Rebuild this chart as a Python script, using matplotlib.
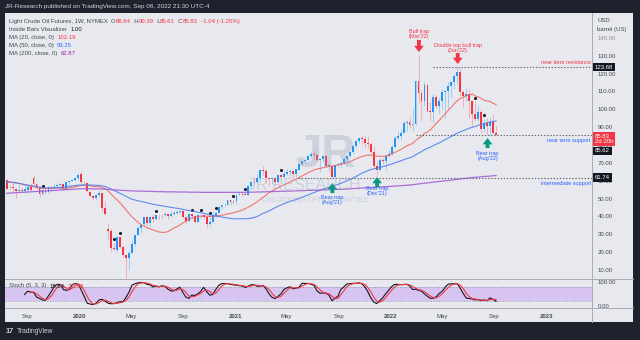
import numpy as np
import pandas as pd
import matplotlib
matplotlib.use("Agg")
import matplotlib.pyplot as plt
import matplotlib.dates as mdates
from matplotlib.patches import Rectangle
from matplotlib.lines import Line2D
from matplotlib.transforms import blended_transform_factory

plt.rcParams['font.family'] = ['Liberation Sans', 'DejaVu Sans']

# ---------------- data (weekly, Light Crude Oil Futures) ----------------
start_week = "2019-07-15"
opens = [
    60.2, 55.7, 56.3, 55.5, 54.3, 54.9, 54.0, 55.0, 56.6, 61.5, 58.2, 55.9, 52.8, 54.6, 53.8, 56.6, 56.2, 57.2, 57.7, 57.9, 55.2, 59.2, 60.1, 60.4, 61.7,
    63.7, 59.0, 58.6, 53.5, 51.5, 50.3, 52.1, 53.0, 44.8, 32.9, 31.7, 22.4, 21.0, 28.3, 22.8, 18.3, 17.0, 19.8, 24.7, 29.4, 33.3, 35.5, 39.6, 36.3, 39.8, 38.5,
    40.6, 40.6, 40.6, 41.3, 40.3, 41.2, 42.0, 42.3, 43.0, 39.6, 37.3, 41.1, 40.3, 37.1, 40.6, 40.9, 39.9, 35.8, 37.1, 40.1, 42.2, 45.5, 46.3, 46.6, 49.1, 48.2,
    48.5, 52.2, 52.4, 52.3, 52.2, 56.9, 59.5, 59.2, 61.5, 66.1, 65.6, 61.4, 61.0, 61.5, 59.3, 63.1, 62.1, 63.6, 64.9, 65.4, 63.6, 66.3, 69.6, 70.9, 71.6, 74.1,
    75.2, 74.6, 71.8, 72.1, 74.0, 68.3, 68.4, 62.3, 68.7, 69.3, 69.7, 72.0, 74.0, 75.9, 79.4, 82.3, 83.8, 83.6, 81.3, 80.8, 75.9, 68.2, 66.3, 71.7, 70.9, 73.8,
    75.2, 78.9, 83.8, 85.1, 86.8, 92.3, 93.1, 91.1, 91.6, 115.7, 109.3, 104.7, 113.9, 99.3, 98.3, 106.9, 102.1, 104.7, 109.8, 110.5, 113.2, 115.1, 118.9, 120.7,
    109.6, 107.6, 108.4, 104.8, 97.6, 94.7, 98.6, 89.0, 92.1, 90.8, 93.1, 86.84]
highs = [
    60.7, 57.5, 58.8, 55.7, 57.5, 56.5, 56.8, 57.0, 58.8, 63.4, 58.8, 56.9, 54.9, 54.9, 56.9, 56.9, 57.9, 57.9, 58.6, 58.8, 59.9, 60.3, 61.1, 61.9, 64.1,
    65.7, 59.6, 59.0, 54.3, 51.9, 52.3, 54.5, 53.3, 48.7, 36.4, 33.0, 25.2, 29.1, 28.4, 23.8, 18.3, 20.5, 26.7, 29.5, 34.7, 35.6, 39.9, 40.4, 40.2, 41.6, 40.8,
    41.1, 41.6, 42.5, 42.0, 42.8, 43.0, 43.5, 43.8, 43.6, 39.8, 41.3, 41.2, 40.8, 41.5, 41.3, 41.6, 39.9, 39.8, 43.0, 42.4, 46.0, 46.7, 47.7, 49.3, 49.4, 49.1,
    52.8, 53.9, 53.8, 53.4, 57.0, 59.8, 62.3, 63.8, 66.4, 68.0, 66.4, 62.3, 62.3, 61.6, 64.0, 63.8, 65.5, 66.5, 66.5, 66.0, 66.8, 69.8, 71.0, 73.0, 74.3, 76.2,
    77.0, 75.5, 72.3, 74.0, 74.0, 69.8, 68.6, 69.3, 70.1, 70.6, 73.0, 74.2, 76.7, 79.8, 82.4, 84.2, 85.4, 84.9, 85.0, 81.5, 79.2, 71.2, 72.9, 72.9, 73.9, 77.2,
    80.2, 84.8, 87.9, 88.8, 93.2, 94.0, 95.8, 100.5, 116.6, 130.5, 110.9, 115.4, 114.4, 104.1, 108.6, 108.7, 106.1, 111.4, 110.8, 115.5, 115.9, 120.0, 123.68, 123.2,
    111.0, 112.2, 111.5, 105.0, 104.4, 101.9, 100.2, 94.7, 95.0, 95.8, 97.6, 90.39]
lows = [
    55.4, 55.1, 53.6, 50.5, 53.8, 53.5, 52.9, 52.9, 54.4, 57.6, 55.5, 50.9, 51.9, 52.4, 53.4, 53.9, 55.7, 56.0, 54.8, 55.0, 55.1, 58.1, 59.6, 60.1, 60.6,
    58.7, 57.4, 53.6, 51.2, 49.3, 49.4, 51.6, 43.3, 41.0, 27.3, 20.1, 20.5, 19.9, 22.1, 17.3, -40.3, 10.1, 19.8, 23.5, 29.4, 31.0, 34.8, 34.7, 34.7, 37.1, 38.0,
    38.7, 39.4, 40.2, 38.7, 39.7, 41.0, 41.5, 42.1, 39.2, 36.1, 36.8, 38.6, 36.6, 37.0, 39.4, 38.6, 33.6, 34.9, 37.0, 39.7, 41.9, 43.9, 45.2, 46.2, 46.2, 47.1,
    47.2, 51.8, 51.4, 51.8, 51.9, 56.2, 58.3, 59.0, 59.3, 63.1, 58.9, 57.3, 58.1, 57.6, 58.9, 60.7, 61.5, 63.0, 62.8, 61.6, 62.3, 66.3, 68.3, 69.7, 71.5, 72.7,
    71.7, 71.2, 65.0, 70.5, 67.5, 65.2, 61.74, 61.8, 67.6, 67.0, 69.3, 69.7, 73.5, 75.0, 78.3, 81.4, 80.5, 78.3, 78.6, 75.3, 67.4, 62.4, 66.1, 69.4, 66.1, 73.3,
    74.3, 78.5, 82.7, 82.7, 86.6, 88.0, 89.5, 88.1, 91.5, 103.5, 93.5, 101.9, 98.4, 93.3, 92.9, 100.6, 97.4, 99.8, 95.0, 100.8, 107.0, 111.4, 115.0, 107.6,
    101.5, 104.6, 95.1, 90.6, 93.6, 93.2, 87.0, 87.3, 85.73, 85.7, 86.1, 85.61]
closes = [
    55.63, 56.20, 55.66, 54.50, 54.87, 54.17, 55.10, 56.52, 54.85, 58.09, 55.91, 52.81, 54.70, 53.78, 56.66, 56.20, 57.24, 57.72, 57.77, 55.17, 59.20, 60.07, 60.44, 61.72, 63.05,
    59.04, 58.54, 54.19, 51.56, 50.32, 52.05, 53.38, 44.76, 41.28, 31.73, 22.43, 21.51, 28.34, 22.76, 18.27, 16.94, 19.78, 24.74, 29.43, 33.25, 35.49, 39.55, 36.26, 39.75, 38.49, 40.65,
    40.55, 40.59, 41.29, 40.27, 41.22, 42.01, 42.34, 42.97, 39.77, 37.33, 41.11, 40.25, 37.05, 40.60, 40.88, 39.85, 35.79, 37.14, 40.13, 42.15, 45.53, 46.26, 46.57, 49.10, 48.23, 48.52,
    52.24, 52.36, 52.27, 52.20, 56.85, 59.47, 59.24, 61.50, 66.09, 65.61, 61.42, 60.97, 61.45, 59.32, 63.13, 62.14, 63.58, 64.90, 65.37, 63.58, 66.32, 69.62, 70.91, 71.64, 74.05, 75.16,
    74.56, 71.81, 72.07, 73.95, 68.28, 68.44, 62.32, 68.74, 69.29, 69.72, 71.97, 73.98, 75.88, 79.35, 82.28, 83.76, 83.57, 81.27, 80.79, 75.94, 68.15, 66.26, 71.67, 70.86, 73.79, 75.21,
    78.90, 83.82, 85.14, 86.82, 92.31, 93.10, 91.07, 91.59, 115.68, 109.33, 104.70, 113.90, 99.27, 98.26, 106.95, 102.07, 104.69, 109.77, 110.49, 113.23, 115.07, 118.87, 120.67, 109.56,
    107.62, 108.43, 104.79, 97.59, 94.70, 98.62, 89.01, 92.09, 90.77, 93.06, 86.87, 85.83]
# weekly closes before the visible range (for the moving averages)
history_closes = [
    68.49, 67.63, 65.91, 68.72, 69.80, 67.75, 68.99, 70.78, 73.25, 74.34, 71.34, 69.12, 67.59,
    63.14, 60.19, 56.46, 50.42, 50.93, 52.61, 51.20, 45.59, 45.33, 47.96, 51.59, 53.80, 53.69, 55.26,
    52.72, 55.59, 57.26, 55.80, 56.07, 58.52, 59.04, 60.14, 63.08, 63.89, 64.00, 63.30,
    61.94, 62.76, 62.76, 58.63, 53.50, 53.99, 52.51, 57.43, 58.47, 57.51, 60.21]
# 200-week moving average
ma200 = [
    53.0, 53.1, 53.2, 53.3, 53.4, 53.5, 53.6, 53.7, 53.8, 53.9, 54.0, 54.1, 54.2, 54.3, 54.4, 54.5, 54.6, 54.7, 54.8, 54.9, 55.0, 55.1, 55.2, 55.3, 55.4,
    55.5, 55.5, 55.5, 55.5, 55.4, 55.4, 55.4, 55.3, 55.2, 55.1, 55.0, 54.9, 54.8, 54.7, 54.6, 54.5, 54.4, 54.3, 54.3, 54.2, 54.2, 54.1, 54.1, 54.0, 54.0, 53.9,
    53.9, 53.9, 53.8, 53.8, 53.8, 53.8, 53.7, 53.7, 53.7, 53.7, 53.6, 53.6, 53.6, 53.6, 53.5, 53.5, 53.5, 53.5, 53.5, 53.5, 53.5, 53.5, 53.5, 53.5, 53.5, 53.5,
    53.5, 53.5, 53.5, 53.5, 53.6, 53.6, 53.6, 53.7, 53.7, 53.8, 53.8, 53.9, 53.9, 54.0, 54.0, 54.1, 54.1, 54.2, 54.2, 54.3, 54.3, 54.4, 54.4, 54.5, 54.6, 54.6,
    54.7, 54.7, 54.8, 54.9, 54.9, 55.0, 55.0, 55.1, 55.2, 55.2, 55.3, 55.4, 55.5, 55.6, 55.7, 55.8, 55.9, 56.0, 56.1, 56.2, 56.3, 56.4, 56.5, 56.6, 56.7, 56.8,
    56.9, 57.0, 57.1, 57.2, 57.4, 57.5, 57.6, 57.8, 58.0, 58.2, 58.4, 58.6, 58.8, 59.0, 59.2, 59.4, 59.6, 59.8, 60.0, 60.2, 60.4, 60.6, 60.8, 61.0,
    61.2, 61.4, 61.6, 61.8, 61.9, 62.1, 62.2, 62.4, 62.5, 62.6, 62.8, 62.87]

price_ticks = [10, 20, 30, 40, 50, 60, 70, 80, 90, 100, 110, 120, 130, 140]
date_ticks = ["2019-09-01", "2020-01-01", "2020-05-01", "2020-09-01", "2021-01-01", "2021-05-01",
              "2021-09-01", "2022-01-01", "2022-05-01", "2022-09-01", "2023-01-01"]
date_labels = ["Sep", "2020", "May", "Sep", "2021", "May", "Sep", "2022", "May", "Sep", "2023"]

resistance = 123.68
near_support = 85.62
inter_support = 61.74
last_price = 85.83

assert len(opens) == len(highs) == len(lows) == len(closes) == len(ma200), (len(opens), len(highs), len(lows), len(closes), len(ma200))

# ---------------- derived series ----------------
dates = pd.date_range(start_week, periods=len(closes), freq="7D")
x = mdates.date2num(dates)
o, h, l, c = (np.array(v, float) for v in (opens, highs, lows, closes))
allc = pd.Series(history_closes + closes)
n = len(closes)
ma20 = allc.rolling(20).mean().values[-n:]
ma50 = allc.rolling(50).mean().values[-n:]
hh = pd.Series(h).rolling(5).max()
ll = pd.Series(l).rolling(5).min()
rawk = 100 * (pd.Series(c) - ll) / (hh - ll)
stk = rawk.rolling(3).mean()
std = stk.rolling(3).mean()
inside = np.zeros(n, bool)
inside[1:] = (h[1:] < h[:-1]) & (l[1:] > l[:-1])

# ---------------- figure ----------------
W, H = 640, 340
fig = plt.figure(figsize=(W / 100, H / 100), dpi=100)
fig.patch.set_facecolor('#1e222d')
BG = '#e8e9ee'
fig.add_artist(Rectangle((5 / W, 1 - 322 / H), (633 - 5) / W, (322 - 13) / H,
                         transform=fig.transFigure, fc=BG, ec='none', zorder=-10))
L, R = 5, 592
ax = fig.add_axes([L / W, 1 - 279 / H, (R - L) / W, (279 - 13) / H])
axs = fig.add_axes([L / W, 1 - 308 / H, (R - L) / W, (308 - 279) / H], sharex=ax)
for a in (ax, axs):
    a.set_facecolor('none')
    for s in a.spines.values():
        s.set_visible(False)

for ypx in (279, 308):
    fig.add_artist(Line2D([5 / W, 633 / W], [1 - ypx / H] * 2, color='#a9acb5', lw=0.7, zorder=5))
fig.add_artist(Line2D([R / W, R / W], [1 - 13 / H, 1 - 322 / H], color='#a9acb5', lw=0.7, zorder=5))

ax.set_xlim(mdates.date2num(pd.Timestamp("2019-07-11")), mdates.date2num(pd.Timestamp("2023-04-18")))
ax.set_ylim(4.96, 153.97)
axs.set_ylim(-9.8, 114)

TXT = '#434651'
ax.yaxis.tick_right()
ax.set_yticks(price_ticks)
ax.set_yticklabels([f"{v:.2f}" for v in price_ticks])
ax.tick_params(axis='y', length=0, pad=4, labelsize=4.3, labelcolor=TXT)
ax.get_yticklabels()[-1].set_alpha(0.55)
ax.tick_params(axis='x', bottom=False, labelbottom=False)

axs.yaxis.tick_right()
axs.set_yticks([0, 100])
axs.set_yticklabels(["0.00", "100.00"])
axs.tick_params(axis='y', length=0, pad=4, labelsize=4.3, labelcolor=TXT)
axs.set_xticks(mdates.date2num(pd.to_datetime(date_ticks)))
axs.set_xticklabels(date_labels)
axs.tick_params(axis='x', length=0, pad=4, labelsize=4.3, labelcolor=TXT)
for t in axs.get_xticklabels():
    if t.get_text().isdigit():
        t.set_fontweight('bold')

# ---------------- candles ----------------
UP, DN = '#2196f3', '#f23645'
UPW, DNW = '#93c6f2', '#f3a4aa'
up = c >= o
ax.vlines(x, l, h, colors=np.where(up, UPW, DNW), lw=0.6, zorder=2)
ax.bar(x, np.maximum(np.abs(c - o), 0.3), bottom=np.minimum(o, c), width=4.4,
       color=np.where(up, UP, DN), lw=0, zorder=3)
ax.plot(x[inside], h[inside] + 2.2, 'o', ms=1.2, color='#131722', zorder=4)

ax.plot(x, ma20, color='#f0605a', lw=0.8, alpha=0.85, zorder=4)
ax.plot(x, ma50, color='#4f7ff0', lw=0.8, alpha=0.9, zorder=4)
ax.plot(x, ma200, color='#a35fd4', lw=0.9, alpha=0.9, zorder=4)

# ---------------- levels & annotations ----------------
def dn(s):
    return mdates.date2num(pd.Timestamp(s))

xr = ax.get_xlim()[1]
LVL = '#5d606b'
ax.hlines(resistance, dn("2022-04-09"), xr, colors=LVL, lw=0.8, linestyles=(0, (1.2, 1.6)), zorder=5)
ax.hlines(near_support, dn("2022-02-28"), xr, colors=LVL, lw=0.8, linestyles=(0, (1.2, 1.6)), zorder=5)
ax.hlines(inter_support, dn("2021-05-29"), xr, colors=LVL, lw=0.8, linestyles=(0, (1.2, 1.6)), zorder=5)

RED_T, BLUE_T, TEAL = '#f23645', '#2962ff', '#089981'
ax.text(xr - 2.5, 126.3, "near term resistance", color=RED_T, fontsize=4.0, ha='right', va='center', zorder=6)
ax.text(xr - 2.5, 82.3, "near term support", color=BLUE_T, fontsize=4.0, ha='right', va='center', zorder=6)
ax.text(xr - 2.5, 58.6, "intermediate support", color=BLUE_T, fontsize=4.0, ha='right', va='center', zorder=6)

def block_arrow(d, tip, tail, color):
    ax.annotate('', xy=(dn(d), tip), xytext=(dn(d), tail),
                arrowprops=dict(arrowstyle='simple,head_width=1.4,head_length=0.9,tail_width=0.55',
                                color=color, lw=0, shrinkA=0, shrinkB=0, mutation_scale=5),
                annotation_clip=False, zorder=7)

def label(d, yv, txt, color):
    ax.text(dn(d), yv, txt, color=color, fontsize=4.0, ha='center', va='center',
            linespacing=1.0, zorder=7)

block_arrow("2022-03-08", 132.1, 138.9, DN)
label("2022-03-08", 142.0, "Bull trap\n(Mar'22)", RED_T)
block_arrow("2022-06-07", 125.4, 131.6, DN)
label("2022-06-07", 134.6, "Double top bull trap\n(Jun'22)", RED_T)
block_arrow("2021-08-17", 58.7, 53.1, TEAL)
label("2021-08-17", 49.2, "Bear trap\n(Aug'21)", BLUE_T)
block_arrow("2021-11-30", 62.1, 56.5, TEAL)
label("2021-11-30", 54.3, "Bear trap\n(Dec'21)", BLUE_T)
block_arrow("2022-08-16", 83.9, 78.3, TEAL)
label("2022-08-16", 74.0, "Bear trap\n(Aug'22)", BLUE_T)

tb = blended_transform_factory(ax.transAxes, ax.transData)
def price_box(yv, txt, fc):
    ax.text(1 + 3 / (R - L), yv, txt, transform=tb, ha='left', va='center', fontsize=4.3,
            color='white', linespacing=1.1,
            bbox=dict(boxstyle='square,pad=0.3', fc=fc, ec='none'), clip_on=False, zorder=10)

price_box(resistance, f"{resistance:.2f}", '#131722')
price_box(83.4, f"{last_price:.2f}\n2d 20h", DN)
price_box(76.7, f"{near_support:.2f}", '#131722')
price_box(inter_support, f"{inter_support:.2f}", '#131722')

# ---------------- stochastic ----------------
axs.axhspan(20, 80, color='#d8c4f1', lw=0, zorder=1)
for v in (20, 80):
    axs.axhline(v, color='#8d8f99', lw=0.5, ls=(0, (2, 2)), zorder=2)
axs.plot(x, stk, color='#131722', lw=0.8, zorder=3)
axs.plot(x, std, color='#f23645', lw=0.8, zorder=4)

# ---------------- watermark ----------------
def af(xp, yp):
    return ((xp - L) / (R - L), (279 - yp) / (279 - 13))

WM = '#8e9bb8'
ax.text(*af(325, 155), "JR", transform=ax.transAxes, fontsize=34, fontweight='bold',
        color=WM, alpha=0.3, ha='center', va='center', zorder=8)
ax.text(*af(304, 186), "JR RESEARCH", transform=ax.transAxes, fontsize=11.5,
        color=WM, alpha=0.3, ha='center', va='center', zorder=8)
ax.text(*af(315, 200), "UNLOCKING OPPORTUNITIES", transform=ax.transAxes, fontsize=5.3,
        color=WM, alpha=0.35, ha='center', va='center', zorder=8)

# ---------------- texts ----------------
renderer = fig.canvas.get_renderer()

def seg_text(xp, yp, segs, size=4.3):
    for s, col in segs:
        t = fig.text(xp / W, 1 - yp / H, s, color=col, fontsize=size, ha='left', va='center', zorder=20)
        xp += t.get_window_extent(renderer=renderer).width

seg_text(9, 21.5, [("Light Crude Oil Futures, 1W, NYMEX  ", TXT), ("O", TXT), ("86.84", DN), ("  H", TXT),
                   ("90.39", DN), ("  L", TXT), ("85.61", DN), ("  C", TXT), ("85.83", DN),
                   ("  -1.04 (-1.20%)", DN)])
seg_text(9, 29.8, [("Inside Bars Visualizer  ", TXT), ("1.00", '#131722')])
seg_text(9, 37.8, [("MA (20, close, 0)  ", TXT), ("102.19", DN)])
seg_text(9, 45.8, [("MA (50, close, 0)  ", TXT), ("93.25", BLUE_T)])
seg_text(9, 53.8, [("MA (200, close, 0)  ", TXT), ("62.87", '#9c27b0')])
seg_text(9, 286, [("Stoch (5, 3, 3)  ", TXT), ("18.64", '#131722'), ("  20.80", DN)])

fig.text(597 / W, 1 - 20 / H, "USD", color=TXT, fontsize=4.3, ha='left', va='center')
fig.text(597 / W, 1 - 29 / H, "barrel (US)", color=TXT, fontsize=4.3, ha='left', va='center')

fig.text(5 / W, 1 - 6.5 / H, "JR-Research published on TradingView.com, Sep 06, 2022 21:30 UTC-4",
         color='#d1d4dc', fontsize=4.6, ha='left', va='center')
fig.text(5 / W, 1 - 331.5 / H, "17", color='#d1d4dc', fontsize=5.2, fontweight='bold', ha='left', va='center')
fig.text(17 / W, 1 - 331.5 / H, "TradingView", color='#d1d4dc', fontsize=4.8, ha='left', va='center')

fig.savefig("out.png", dpi=100, facecolor=fig.get_facecolor())
